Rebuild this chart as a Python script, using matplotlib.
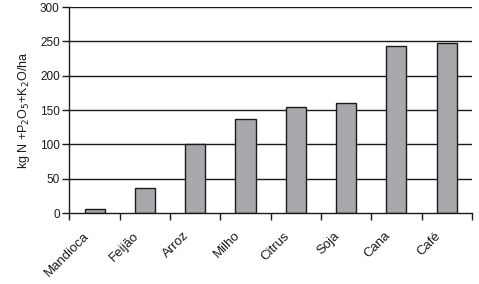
import matplotlib
matplotlib.use("Agg")
import matplotlib.pyplot as plt
import matplotlib.transforms as mtransforms
import numpy as np

categories = ["Mandioca", "Feijão", "Arroz", "Milho", "Citrus", "Soja", "Cana", "Café"]
values = [6, 37, 101, 137, 154, 161, 243, 247]
yticks = [0, 50, 100, 150, 200, 250, 300]

plt.rcParams['font.family'] = ['Liberation Sans', 'DejaVu Sans']
fig = plt.figure(figsize=(4.79, 2.84), dpi=100)
ax = fig.add_axes([0.145, 0.25, 0.84, 0.725])

x = np.arange(len(categories))
ax.set_axisbelow(True)
for t in yticks[1:]:
    ax.axhline(t, color='#1a1a1a', lw=1.0, zorder=0)
ax.bar(x, values, width=0.4, color='#a7a8ac', edgecolor='#1a1a1a', linewidth=1.0, zorder=2)

ax.set_xlim(-0.5, len(categories) - 0.5)
ax.set_ylim(0, 300)
ax.set_yticks(yticks)
ax.set_yticklabels([str(t) for t in yticks], fontsize=8.5, color='#1a1a1a')
ax.set_xticks(np.arange(len(categories) + 1) - 0.5, minor=False)
ax.set_xticklabels([""] * (len(categories) + 1))
ax.set_xticks(x, minor=True)
ax.set_xticklabels(categories, minor=True, rotation=45, ha='right', va='top',
                   rotation_mode='anchor', fontsize=9.5, color='#1a1a1a')
ax.tick_params(axis='x', which='minor', length=0, pad=12)
ax.tick_params(axis='x', which='major', length=5, width=1.0, direction='out', color='#1a1a1a')
ax.tick_params(axis='y', length=5, width=1.0, direction='out', pad=2, color='#1a1a1a')

offset = mtransforms.ScaledTranslation(-0.12, 0.0, fig.dpi_scale_trans)
for lbl in ax.get_xticklabels(minor=True):
    lbl.set_transform(lbl.get_transform() + offset)

for s in ['top', 'right']:
    ax.spines[s].set_visible(False)
for s in ['left', 'bottom']:
    ax.spines[s].set_linewidth(1.0)
    ax.spines[s].set_color('#1a1a1a')

ax.set_ylabel("kg N +P$_2$O$_5$+K$_2$O/ha", fontsize=9, labelpad=6, color='#1a1a1a')

fig.savefig("out.png", dpi=100)
